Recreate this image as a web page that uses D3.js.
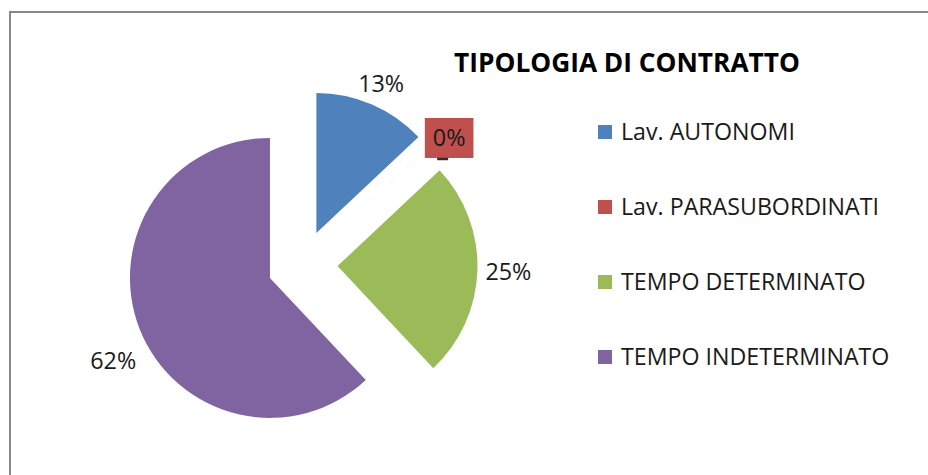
<!DOCTYPE html>
<html>
<script src="https://cdn.jsdelivr.net/npm/d3@7"></script>
<body style="margin:0;background:#fff">
<svg width="928" height="475"></svg>
<script>
// data
var categories = ["Lav. AUTONOMI", "Lav. PARASUBORDINATI", "TEMPO DETERMINATO", "TEMPO INDETERMINATO"],
    values     = [13, 0.005, 25, 62],
    colors     = ["#4F81BD", "#C0504D", "#9BBB59", "#8064A2"],
    title      = "TIPOLOGIA DI CONTRATTO";

var svg    = d3.select("svg"),
    font   = "'Open Sans', 'Liberation Sans', sans-serif",
    cx = 302.5, cy = 265, R = 140, explode = 35;

// fit a text element to a given width by changing its font size
function fitWidth(sel, w) {
  var node = sel.node(), s = parseFloat(sel.attr("font-size"));
  sel.attr("font-size", s * w / node.getComputedTextLength());
}

// chart frame (only top and left edges fall inside the picture)
svg.append("rect")
   .attr("x", 10).attr("y", 12).attr("width", 1000).attr("height", 1000)
   .attr("fill", "none").attr("stroke", "#888").attr("stroke-width", 2);

var total = d3.sum(values),
    pie   = d3.pie().sort(null).value(function(d) { return d; }),
    arc   = d3.arc().innerRadius(0).outerRadius(R),
    arcs  = pie(values);

function mid(d) { return (d.startAngle + d.endAngle) / 2; }

var g = svg.append("g").attr("transform", "translate(" + cx + "," + cy + ")");

g.selectAll("path")
 .data(arcs)
 .enter().append("path")
 .attr("d", arc)
 .attr("fill", function(d, i) { return colors[i]; })
 .attr("transform", function(d) {
    var a = mid(d);
    return "translate(" + (Math.sin(a) * explode) + "," + (-Math.cos(a) * explode) + ")";
 });

// data labels (placed just outside each exploded slice)
var labR  = [198, 194, 206, 212],
    labDa = [0, 0.04, 0, -0.09];

var labels = g.selectAll("g.lab")
 .data(arcs)
 .enter().append("g")
 .attr("class", "lab")
 .attr("transform", function(d, i) {
    var a = mid(d) + labDa[i], r = labR[i];
    return "translate(" + (Math.sin(a) * r) + "," + (-Math.cos(a) * r) + ")";
 });

var labText = labels.append("text")
 .attr("text-anchor", "middle")
 .attr("dy", "0.36em")
 .attr("font-family", font)
 .attr("font-size", 22)
 .attr("fill", "#1a1a1a")
 .text(function(d) { return Math.round(d.value / total * 100) + "%"; });

fitWidth(labText.filter(function(d, i) { return i === 2; }), 46);
labText.attr("font-size", labText.filter(function(d, i) { return i === 2; }).attr("font-size"));

// the tiny slice gets its label in a coloured box
labels.filter(function(d, i) { return i === 1; })
 .each(function() {
    var gl = d3.select(this), b = gl.select("text").node().getBBox();
    gl.insert("rect", "text")
      .attr("x", b.x - 8).attr("y", -20).attr("width", b.width + 16).attr("height", 40)
      .attr("fill", colors[1]);
    gl.append("line")
      .attr("x1", -12).attr("x2", -1).attr("y1", 21).attr("y2", 21)
      .attr("stroke", "#3a2a2a").attr("stroke-width", 2.5);
 });

// title
svg.append("text")
   .attr("x", 627).attr("y", 72)
   .attr("text-anchor", "middle")
   .attr("font-family", font).attr("font-weight", "bold")
   .attr("font-size", 26).attr("fill", "#000")
   .text(title)
   .call(fitWidth, 346);

// legend
var legend = svg.selectAll("g.leg")
   .data(categories)
   .enter().append("g")
   .attr("class", "leg")
   .attr("transform", function(d, i) { return "translate(598," + (132 + i * 75) + ")"; });

legend.append("rect")
   .attr("x", 0).attr("y", -7).attr("width", 14).attr("height", 14)
   .attr("fill", function(d, i) { return colors[i]; });

var legText = legend.append("text")
   .attr("x", 23).attr("dy", "0.36em")
   .attr("font-family", font).attr("font-size", 20)
   .attr("fill", "#1a1a1a")
   .text(function(d) { return d; });

fitWidth(legText.filter(function(d, i) { return i === 0; }), 174);
legText.attr("font-size", legText.filter(function(d, i) { return i === 0; }).attr("font-size"));
</script>
</body>
</html>
